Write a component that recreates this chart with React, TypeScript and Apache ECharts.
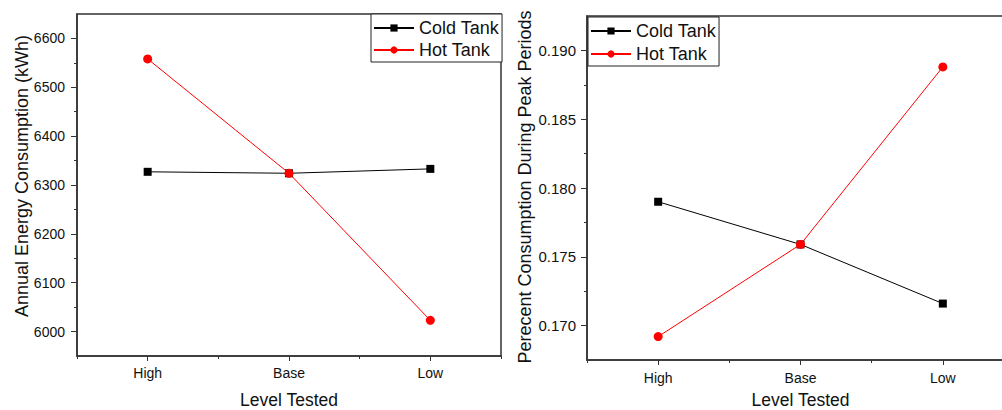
import React, { useEffect, useRef } from "react";
import * as echarts from "echarts";

const categories = ["High", "Base", "Low"];
const energyCold = [6327, 6324, 6333];
const energyHot = [6558, 6324, 6023];
const peakCold = [0.179, 0.1759, 0.1716];
const peakHot = [0.1692, 0.1759, 0.1888];

const energyTicks = [6000, 6100, 6200, 6300, 6400, 6500, 6600];
const energyMinorTicks = [6050, 6150, 6250, 6350, 6450, 6550];
const peakTicks = [0.17, 0.175, 0.18, 0.185, 0.19];
const peakMinorTicks = [0.1725, 0.1775, 0.1825, 0.1875];

const FONT = "Liberation Sans, Arial, sans-serif";
const AXIS_COLOR = "#333";
const TEXT_COLOR = "#111";

function xAxes(gridIndex: number, margin: number, name: string, nameGap: number) {
  return [
    {
      type: "category",
      gridIndex,
      data: categories,
      boundaryGap: true,
      position: "bottom",
      axisLine: { show: true, lineStyle: { color: AXIS_COLOR, width: 1.5 } },
      axisTick: { show: true, alignWithLabel: true, length: 5, lineStyle: { color: AXIS_COLOR } },
      axisLabel: { show: true, margin, fontSize: 14, fontFamily: FONT, color: TEXT_COLOR },
      splitLine: { show: false },
      name,
      nameLocation: "middle",
      nameGap,
      nameTextStyle: { fontSize: 17.5, fontFamily: FONT, color: TEXT_COLOR },
    },
    {
      type: "category",
      gridIndex,
      data: categories,
      boundaryGap: true,
      position: "bottom",
      axisLine: { show: false },
      axisTick: { show: true, alignWithLabel: false, interval: 0, length: 3, lineStyle: { color: AXIS_COLOR } },
      axisLabel: { show: false },
      splitLine: { show: false },
    },
  ];
}

function yAxes(
  gridIndex: number,
  min: number,
  max: number,
  ticks: number[],
  minor: number[],
  fmt: (v: number) => string,
  fontSize: number,
  margin: number
) {
  return [
    {
      type: "value",
      gridIndex,
      min,
      max,
      position: "left",
      axisLine: { show: true, lineStyle: { color: AXIS_COLOR, width: 1.5 } },
      axisTick: { show: true, customValues: ticks, length: 6, lineStyle: { color: AXIS_COLOR } },
      axisLabel: {
        show: true,
        customValues: ticks,
        formatter: fmt,
        margin,
        fontSize,
        fontFamily: FONT,
        color: TEXT_COLOR,
      },
      splitLine: { show: false },
    },
    {
      type: "value",
      gridIndex,
      min,
      max,
      position: "left",
      axisLine: { show: false },
      axisTick: { show: true, customValues: minor, length: 3, lineStyle: { color: AXIS_COLOR } },
      axisLabel: { show: false },
      splitLine: { show: false },
    },
  ];
}

function legend(left: number, top: number, gap: number) {
  return {
    left,
    top,
    orient: "vertical",
    data: ["Cold Tank", "Hot Tank"],
    itemWidth: 40,
    itemHeight: 9,
    itemGap: gap,
    padding: [5, 3, 3, 2],
    borderColor: "#222",
    borderWidth: 1,
    backgroundColor: "#fff",
    selectedMode: false,
    textStyle: { fontSize: 18, fontFamily: FONT, color: TEXT_COLOR, padding: [0, 0, 0, 0] },
  };
}

function coldSeries(data: number[], xi: number, yi: number) {
  return {
    name: "Cold Tank",
    type: "line",
    xAxisIndex: xi,
    yAxisIndex: yi,
    data,
    symbol: "rect",
    symbolSize: 8,
    lineStyle: { color: "#000", width: 1 },
    itemStyle: { color: "#000" },
    z: 2,
  };
}

function hotSeries(data: number[], xi: number, yi: number) {
  return {
    name: "Hot Tank",
    type: "line",
    xAxisIndex: xi,
    yAxisIndex: yi,
    data,
    symbol: "circle",
    symbolSize: 9,
    lineStyle: { color: "#ff0000", width: 1 },
    itemStyle: { color: "#ff0000" },
    z: 3,
  };
}

export default function App() {
  const ref = useRef<HTMLDivElement>(null);

  useEffect(() => {
    document.body.style.margin = "0";
    if (!ref.current) return;
    const chart = echarts.init(ref.current, undefined, { renderer: "svg" });
    chart.setOption({
      animation: false,
      backgroundColor: "#fff",
      grid: [
        {
          left: 77, top: 14, width: 424, height: 342,
          show: true, borderColor: AXIS_COLOR, borderWidth: 1.5, backgroundColor: "transparent",
          outerBoundsMode: "none", containLabel: false,
        },
        {
          left: 587, top: 16, width: 427, height: 344,
          show: true, borderColor: AXIS_COLOR, borderWidth: 1.5, backgroundColor: "transparent",
          outerBoundsMode: "none", containLabel: false,
        },
      ],
      legend: [legend(371, 14, 4), legend(588, 17, 5)],
      xAxis: [...xAxes(0, 10, "Level Tested", 35), ...xAxes(1, 11, "Level Tested", 31)],
      yAxis: [
        ...yAxes(0, 5950, 6650, energyTicks, energyMinorTicks, (v: number) => String(Math.round(v)), 14, 12),
        ...yAxes(1, 0.1675, 0.1925, peakTicks, peakMinorTicks, (v: number) => v.toFixed(3), 15, 11),
      ],
      graphic: [
        {
          type: "text",
          x: 22,
          y: 176,
          rotation: Math.PI / 2,
          style: {
            text: "Annual Energy Consumption (kWh)",
            font: `18px ${FONT}`,
            fill: TEXT_COLOR,
            align: "center",
            verticalAlign: "middle",
          },
        },
        {
          type: "text",
          x: 525,
          y: 187,
          rotation: Math.PI / 2,
          style: {
            text: "Perecent Consumption During Peak Periods",
            font: `18px ${FONT}`,
            fill: TEXT_COLOR,
            align: "center",
            verticalAlign: "middle",
          },
        },
      ],
      series: [
        coldSeries(energyCold, 0, 0),
        hotSeries(energyHot, 0, 0),
        coldSeries(peakCold, 2, 2),
        hotSeries(peakHot, 2, 2),
      ],
    });
    return () => chart.dispose();
  }, []);

  return <div ref={ref} style={{ width: 1002, height: 410 }} />;
}
